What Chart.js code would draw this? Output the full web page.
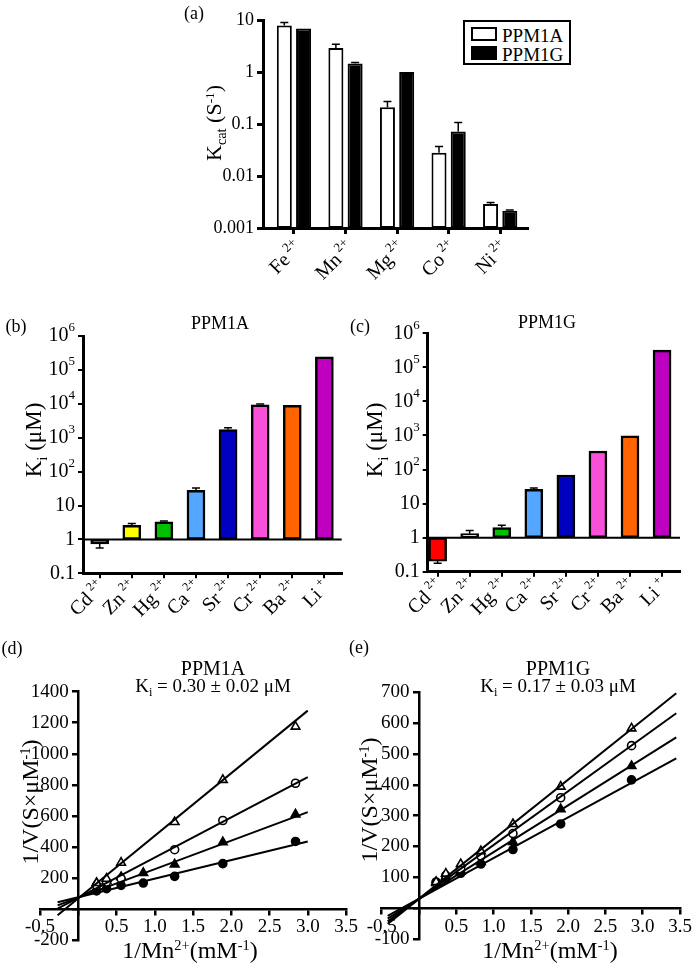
<!DOCTYPE html>
<html>
<head>
<meta charset="utf-8">
<script src="https://cdn.jsdelivr.net/npm/chart.js@4.4.1/dist/chart.umd.min.js"></script>
<style>
  body { margin: 0; background: #fff; width: 693px; height: 965px; position: relative; overflow: hidden; }
  canvas { position: absolute; }
  .txt { position: absolute; font-family: "Liberation Serif", serif; color: #000; white-space: nowrap; line-height: 1; }
  .txt sub { font-size: 0.65em; vertical-align: -0.35em; }
  .txt sup { font-size: 0.6em; vertical-align: 0.55em; }
  .legend { position: absolute; left: 463px; top: 20px; width: 104px; height: 41px; border: 2px solid #000; background: #fff; }
  .sw { position: absolute; left: 6px; width: 22px; height: 10px; border: 2px solid #000; }
</style>
</head>
<body>
<script>
// (a) kcat values per metal
const metalsA = ['Fe', 'Mn', 'Mg', 'Co', 'Ni'];
const chargeA = ['2+', '2+', '2+', '2+', '2+'];
const kcatA = [7.8, 2.9, 0.21, 0.028, 0.0029];
const kcatAErr = [9.0, 3.4, 0.27, 0.037, 0.0031];
const kcatG = [6.9, 1.45, 1.0, 0.072, 0.00215];
const kcatGErr = [null, 1.52, null, 0.107, 0.00222];
const kcatTicks = [0.001, 0.01, 0.1, 1, 10];

// (b), (c) Ki per inhibiting ion
const ions = ['Cd', 'Zn', 'Hg', 'Ca', 'Sr', 'Cr', 'Ba', 'Li'];
const ionCharge = ['2+', '2+', '2+', '2+', '2+', '2+', '2+', '+'];
const ionColors = ['#ff0000', '#ffff00', '#00c000', '#55a6ff', '#0000c0', '#f850d8', '#ff6400', '#c000c0'];
const kiA = [0.73, 2.6, 3.3, 28, 1750, 9400, 9000, 245000];
const kiAErr = [0.56, 2.95, 3.5, 33, 1950, 9900, null, null];
const kiG = [0.205, 1.31, 1.97, 26, 69, 350, 970, 320000];
const kiGErr = [0.176, 1.63, 2.3, 28.7, null, null, null, null];
const kiTicks = [0.1, 1, 10, 100, 1000, 10000, 100000, 1000000];

// (d) PPM1A double reciprocal
const invMnA = [0.24, 0.37, 0.56, 0.85, 1.26, 1.89, 2.84];
const dOpenTri = [167, 195, 298, null, 560, 832, 1175];
const dOpenCirc = [152, 174, 195, null, 382, 570, 810];
const dTri = [167, 180, 206, 232, 287, 431, 609];
const dCirc = [116, 131, 152, 167, 210, 292, 435];
const dFitX = [-0.27, 3.0];
const dFitStart = [-40, 2, 23, 43];
const dFitEnd = [1278, 849, 624, 435];

// (e) PPM1G double reciprocal
const invMnG = [0.23, 0.36, 0.56, 0.83, 1.26, 1.90, 2.85];
const eOpenTri = [85, 112, 143, 185, 273, 394, 583];
const eOpenCirc = [82, 106, 126, 169, 242, 358, 527];
const eTri = [82, 102, 118, 150, 215, 321, 461];
const eCirc = [85, 96, 113, 143, 190, 273, 416];
const eFitX = [-0.42, 3.45];
const eFitStart = [-51, -43, -34, -25];
const eFitEnd = [697, 632, 554, 486];

const SERIF = '"Liberation Serif", serif';
Chart.defaults.font.family = SERIF;
Chart.defaults.color = '#000';

function makeCanvas(left, top, w, h) {
  const c = document.createElement('canvas');
  c.width = w; c.height = h;
  c.style.left = left + 'px'; c.style.top = top + 'px';
  c.style.width = w + 'px'; c.style.height = h + 'px';
  document.body.appendChild(c);
  return c;
}

function addText(html, cx, cy, size, rotate) {
  const d = document.createElement('div');
  d.className = 'txt';
  d.innerHTML = html;
  d.style.left = cx + 'px'; d.style.top = cy + 'px';
  d.style.fontSize = size + 'px';
  d.style.transform = 'translate(-50%, -50%)' + (rotate ? ' rotate(-90deg)' : '');
  document.body.appendChild(d);
}

const common = {
  responsive: false,
  animation: false,
  devicePixelRatio: 1,
  plugins: { legend: { display: false }, tooltip: { enabled: false } }
};

const blackGrid = (w) => ({ drawOnChartArea: false, drawTicks: true, tickLength: 6, lineWidth: w, color: '#000', offset: false });
const blackBorder = (w) => ({ display: true, width: w, color: '#000' });

// error bars from bar tip to error value
const errorBars = {
  id: 'errorBars',
  afterDatasetsDraw(chart) {
    const ctx = chart.ctx, ys = chart.scales.y;
    ctx.save();
    ctx.strokeStyle = '#000';
    ctx.lineWidth = 1.5;
    chart.data.datasets.forEach((ds, di) => {
      const meta = chart.getDatasetMeta(di);
      (ds.errors || []).forEach((e, i) => {
        if (e == null) return;
        const x = meta.data[i].x;
        const y0 = ys.getPixelForValue(ds.tips[i]);
        const y1 = ys.getPixelForValue(e);
        ctx.beginPath();
        ctx.moveTo(x, y0); ctx.lineTo(x, y1);
        ctx.moveTo(x - 4, y1); ctx.lineTo(x + 4, y1);
        ctx.stroke();
      });
    });
    ctx.restore();
  }
};

// rotated category labels with superscript charge
function ionLabels(names, charges, opt) {
  return {
    id: 'ionLabels',
    afterDraw(chart) {
      const ctx = chart.ctx, xs = chart.scales.x, bottom = chart.chartArea.bottom;
      names.forEach((n, i) => {
        ctx.save();
        ctx.translate(xs.getPixelForValue(i) + opt.dx, bottom + opt.dy);
        ctx.rotate(-Math.PI / 4);
        ctx.fillStyle = '#000';
        ctx.textAlign = 'right';
        ctx.textBaseline = 'alphabetic';
        ctx.font = opt.sup + 'px ' + SERIF;
        const sw = ctx.measureText(charges[i]).width;
        ctx.fillText(charges[i], 0, -opt.size * 0.42);
        ctx.font = opt.size + 'px ' + SERIF;
        ctx.fillText(n, -sw - opt.gap, 0);
        ctx.restore();
      });
    }
  };
}

// 10^n tick labels
const powLabels = {
  id: 'powLabels',
  afterDraw(chart) {
    const ctx = chart.ctx, ys = chart.scales.y, x = chart.chartArea.left - 8;
    ctx.save();
    ctx.fillStyle = '#000';
    ctx.textAlign = 'right';
    ctx.textBaseline = 'middle';
    kiTicks.forEach(v => {
      const y = ys.getPixelForValue(v);
      const p = Math.round(Math.log10(v));
      if (p < 2) {
        ctx.font = '20px ' + SERIF;
        ctx.fillText(String(v), x, y);
      } else {
        ctx.font = '13px ' + SERIF;
        const sw = ctx.measureText(String(p)).width;
        ctx.fillText(String(p), x, y - 8);
        ctx.font = '20px ' + SERIF;
        ctx.fillText('10', x - sw, y);
      }
    });
    ctx.restore();
  }
};

const unityLine = {
  id: 'unityLine',
  afterDatasetsDraw(chart) {
    const ctx = chart.ctx, a = chart.chartArea;
    const y = chart.scales.y.getPixelForValue(1);
    ctx.save();
    ctx.strokeStyle = '#000';
    ctx.lineWidth = 2;
    ctx.beginPath(); ctx.moveTo(a.left, y); ctx.lineTo(a.right, y); ctx.stroke();
    ctx.restore();
  }
};

// ---- (a) ----
new Chart(makeCanvas(190, 0, 350, 300), {
  type: 'bar',
  data: {
    datasets: [
      { label: 'PPM1A', data: metalsA.map((m, i) => ({ x: i, y: kcatA[i] })), tips: kcatA, errors: kcatAErr,
        backgroundColor: '#fff', borderColor: '#000', borderWidth: 2, borderSkipped: false,
        categoryPercentage: 0.746, barPercentage: 0.78 },
      { label: 'PPM1G', data: metalsA.map((m, i) => ({ x: i, y: kcatG[i] })), tips: kcatG, errors: kcatGErr,
        backgroundColor: '#000', borderColor: '#000', borderWidth: 2, borderSkipped: false,
        categoryPercentage: 0.746, barPercentage: 0.78 }
    ]
  },
  options: {
    ...common,
    layout: { padding: { left: 0, top: 20, right: 13, bottom: 0 } },
    scales: {
      x: {
        type: 'linear', min: -0.6, max: 4.52, offset: false,
        grid: blackGrid(3), border: blackBorder(3), ticks: { display: false },
        afterBuildTicks: s => { s.ticks = metalsA.map((m, i) => ({ value: i })); },
        afterFit: s => { s.height = 72; }
      },
      y: {
        type: 'logarithmic', min: 0.001, max: 10,
        grid: blackGrid(3), border: blackBorder(3),
        ticks: { font: { size: 18 }, padding: 3, callback: v => String(v) },
        afterBuildTicks: s => { s.ticks = kcatTicks.map(v => ({ value: v })); },
        afterFit: s => { s.width = 73; }
      }
    }
  },
  plugins: [errorBars, ionLabels(metalsA, chargeA, { dx: 9, dy: 21, size: 20, sup: 13, gap: 3 })]
});

// ---- (b), (c) ----
function kiChart(canvas, values, errs, pad, yWidth, xHeight, xMin, xMax) {
  return new Chart(canvas, {
    type: 'bar',
    data: {
      datasets: [{
        data: ions.map((n, i) => ({ x: i, y: [1, values[i]] })), tips: values, errors: errs,
        backgroundColor: ionColors, borderColor: '#000', borderWidth: 2.5, borderSkipped: false,
        barThickness: 18
      }]
    },
    options: {
      ...common,
      layout: { padding: pad },
      scales: {
        x: {
          type: 'linear', min: xMin, max: xMax, offset: false,
          grid: { ...blackGrid(2), tickLength: 5 }, border: blackBorder(3), ticks: { display: false },
          afterBuildTicks: s => { s.ticks = ions.map((n, i) => ({ value: i })); },
          afterFit: s => { s.height = xHeight; }
        },
        y: {
          type: 'logarithmic', min: 0.1, max: 1000000,
          grid: { ...blackGrid(2), tickLength: 5 }, border: blackBorder(3), ticks: { display: false },
          afterBuildTicks: s => { s.ticks = kiTicks.map(v => ({ value: v })); },
          afterFit: s => { s.width = yWidth; }
        }
      }
    },
    plugins: [unityLine, errorBars, powLabels, ionLabels(ions, ionCharge, { dx: 6, dy: 15, size: 20, sup: 12, gap: 4 })]
  });
}
kiChart(makeCanvas(0, 310, 345, 310), kiA, kiAErr, { left: 0, top: 26, right: 3.3, bottom: 0 }, 83, 46.7, -0.52, 7.54);
kiChart(makeCanvas(345, 310, 348, 310), kiG, kiGErr, { left: 0, top: 23.3, right: 13, bottom: 0 }, 82.7, 48.3, -0.31, 7.56);

// ---- (d), (e) ----
const markers = [
  { style: 'triangle', fill: '#fff', r: 5 },
  { style: 'circle', fill: '#fff', r: 4 },
  { style: 'triangle', fill: '#000', r: 5 },
  { style: 'circle', fill: '#000', r: 4 }
];

function kineticChart(canvas, xs, series, fitX, fitStart, fitEnd, yMin, yMax, yStep, pad) {
  const datasets = [];
  series.forEach((ys, k) => {
    datasets.push({
      data: [{ x: fitX[0], y: fitStart[k] }, { x: fitX[1], y: fitEnd[k] }],
      showLine: true, borderColor: '#000', borderWidth: 2, pointRadius: 0
    });
  });
  series.forEach((ys, k) => {
    datasets.push({
      data: xs.map((x, i) => ({ x, y: ys[i] })),
      showLine: false, pointStyle: markers[k].style, pointRadius: markers[k].r,
      pointBackgroundColor: markers[k].fill, pointBorderColor: '#000', pointBorderWidth: 1.6
    });
  });
  return new Chart(canvas, {
    type: 'scatter',
    data: { datasets },
    options: {
      ...common,
      layout: { padding: pad },
      scales: {
        x: {
          type: 'linear', min: -0.5, max: 3.5, position: { y: 0 },
          grid: { ...blackGrid(2.5), tickLength: 5 }, border: blackBorder(2.5),
          ticks: { stepSize: 0.5, font: { size: 19 }, padding: 2, maxRotation: 0, autoSkip: false,
            callback: v => (v === 0 ? '' : v.toFixed(1)) },
          afterFit: s => { s.height = 0; s.paddingLeft = 0; s.paddingRight = 0; }
        },
        y: {
          type: 'linear', min: yMin, max: yMax, position: { x: 0 },
          grid: { ...blackGrid(2.5), tickLength: 5 }, border: blackBorder(2.5),
          // labels sit on the axis line when the axis is placed at x = 0, so pad them with spaces
          ticks: { stepSize: yStep, font: { size: 19 }, padding: 2, autoSkip: false,
            callback: v => (v === 0 ? '' : v + '  ') },
          afterFit: s => { s.width = 0; s.paddingTop = 0; s.paddingBottom = 0; }
        }
      }
    }
  });
}
kineticChart(makeCanvas(0, 640, 360, 325), invMnA, [dOpenTri, dOpenCirc, dTri, dCirc], dFitX, dFitStart, dFitEnd,
  -200, 1400, 200, { left: 40, top: 51.7, right: 14, bottom: 25 });
kineticChart(makeCanvas(345, 640, 348, 325), invMnG, [eOpenTri, eOpenCirc, eTri, eCirc], eFitX, eFitStart, eFitEnd,
  -100, 700, 100, { left: 36.7, top: 52.3, right: 13, bottom: 26 });

// ---- text ----
addText('(a)', 194, 13, 18);
addText('K<sub>cat</sub> (S<sup>-1</sup>)', 216, 123, 22, true);
addText('(b)', 16, 326, 18);
addText('(c)', 360, 326, 18);
addText('PPM1A', 220, 323, 18);
addText('PPM1G', 547, 322, 18);
addText('K<sub>i</sub> (μM)', 36, 440, 23, true);
addText('K<sub>i</sub> (μM)', 377, 440, 23, true);
addText('(d)', 12, 648, 18);
addText('(e)', 359, 647, 18);
addText('PPM1A', 213, 668, 20);
addText('K<sub>i</sub> = 0.30 ± 0.02 μM', 213, 687, 19);
addText('PPM1G', 558, 668, 20);
addText('K<sub>i</sub> = 0.17 ± 0.03 μM', 558, 687, 19);
addText('1/V(S×μM<sup>-1</sup>)', 30, 802, 24, true);
addText('1/V(S×μM<sup>-1</sup>)', 369, 800, 24, true);
addText('1/Mn<sup>2+</sup>(mM<sup>-1</sup>)', 190, 950, 24);
addText('1/Mn<sup>2+</sup>(mM<sup>-1</sup>)', 550, 950, 24);

// legend
const lg = document.createElement('div');
lg.className = 'legend';
lg.innerHTML =
  '<div class="sw" style="top:5px;background:#fff"></div><div class="txt" style="left:37px;top:4px;font-size:19px">PPM1A</div>' +
  '<div class="sw" style="top:24px;background:#000"></div><div class="txt" style="left:37px;top:23px;font-size:19px">PPM1G</div>';
document.body.appendChild(lg);
</script>
</body>
</html>
